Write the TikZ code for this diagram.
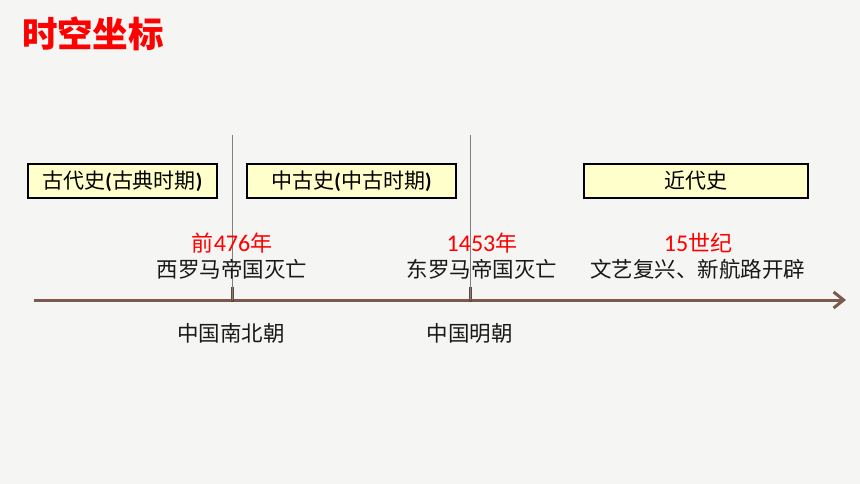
\documentclass[tikz,border=0pt]{standalone}
\usepackage{fontspec}
\setmainfont{Noto Sans CJK SC}
\newfontfamily\latinf{Carlito}
\usetikzlibrary{arrows.meta}
\definecolor{bgc}{HTML}{F5F5F3}
\definecolor{boxfill}{HTML}{FFFFCC}
\definecolor{axisc}{HTML}{7A5A4C}
\definecolor{titlered}{HTML}{FF0000}
\begin{document}
\begin{tikzpicture}[x=1pt,y=-1pt,
  period/.style={draw=black,line width=2pt,fill=boxfill,minimum height=34pt,inner sep=0pt,font=\fontsize{21}{24}\selectfont},
  yearlbl/.style={text=titlered,font=\fontsize{22}{24}\selectfont,inner sep=0pt},
  eventlbl/.style={text=black!90,font=\fontsize{21.5}{24}\selectfont,inner sep=0pt},
  divider/.style={draw=black!50,line width=1pt},
  tickmark/.style={draw=axisc!80!black,line width=3pt}]
\fill[bgc] (0,0) rectangle (860,484);
\useasboundingbox (0,0) rectangle (860,484);
% title
\node[text=titlered,font=\fontsize{35.5}{38}\selectfont\bfseries,inner sep=0pt] (title) at (93,34) {时空坐标};
% period boxes
\node[period,minimum width=189pt] (ancient) at (122.5,181) {古代史{\latinf\bfseries(}古典时期{\latinf\bfseries)}};
\node[period,minimum width=209pt] (medieval) at (351.5,181) {中古史{\latinf\bfseries(}中古时期{\latinf\bfseries)}};
\node[period,minimum width=224pt] (modern) at (696,181) {近代史};
% axis
\coordinate (axstart) at (34,300);
\coordinate (axend) at (846,300);
\draw[axisc,line width=3pt,-{Straight Barb[length=10pt,width=16pt]}] (axstart) -- (axend);
% dividers and ticks
\coordinate (d1top) at (232,135);
\coordinate (d1bot) at (232,300);
\coordinate (d2top) at (470,135);
\coordinate (d2bot) at (470,300);
\coordinate (t1top) at (232,287);
\coordinate (t1bot) at (232,302);
\coordinate (t2top) at (470,287);
\coordinate (t2bot) at (470,302);
\draw[tickmark] (t1top) -- (t1bot);
\draw[tickmark] (t2top) -- (t2bot);
\draw[divider] (d1top) -- (d1bot);
\draw[divider] (d2top) -- (d2bot);
% labels
\node[yearlbl] (y1) at (232,243) {前{\latinf\fontsize{24}{24}\selectfont 476}年};
\node[eventlbl] (e1) at (232,269) {西罗马帝国灭亡};
\node[yearlbl] (y2) at (482,243) {{\latinf\fontsize{24}{24}\selectfont 1453}年};
\node[eventlbl] (e2) at (482,269) {东罗马帝国灭亡};
\node[yearlbl] (y3) at (698,243) {{\latinf\fontsize{24}{24}\selectfont 15}世纪};
\node[eventlbl] (e3) at (697.5,269) {文艺复兴、新航路开辟};
\node[eventlbl] (c1) at (231,333) {中国南北朝};
\node[eventlbl] (c2) at (469.5,333) {中国明朝};
\end{tikzpicture}
\end{document}
